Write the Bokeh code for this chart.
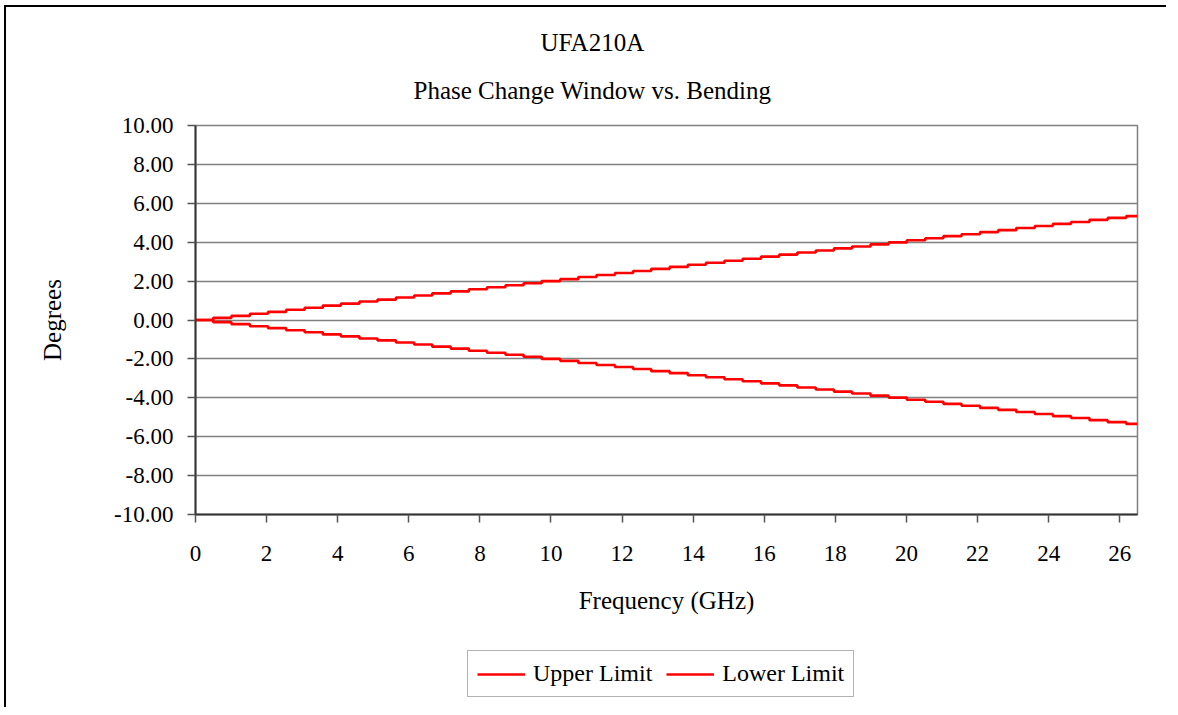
from bokeh.plotting import figure
from bokeh.models import Range1d, SingleIntervalTicker, NumeralTickFormatter, Legend, Title
from bokeh.layouts import column
from bokeh.embed import file_html
from bokeh.resources import INLINE

# ---- data ----
title_lines = ["UFA210A", "Phase Change Window vs. Bending"]
x_label = "Frequency (GHz)"
y_label = "Degrees"
series_names = ["Upper Limit", "Lower Limit"]

freq_ghz = [0.00, 0.50, 1.01, 1.53, 2.04, 2.55, 3.07, 3.58, 4.09, 4.61, 5.12,
            5.64, 6.15, 6.66, 7.18, 7.69, 8.20, 8.72, 9.23, 9.74, 10.26,
            10.77, 11.28, 11.80, 12.31, 12.82, 13.34, 13.85, 14.36, 14.88, 15.39,
            15.91, 16.42, 16.93, 17.45, 17.96, 18.47, 18.99, 19.50, 20.01, 20.53,
            21.04, 21.55, 22.07, 22.58, 23.09, 23.61, 24.12, 24.63, 25.15, 25.66,
            26.18, 26.50]
upper_deg = [0.00, 0.11, 0.21, 0.32, 0.42, 0.53, 0.63, 0.74, 0.84, 0.95, 1.05,
             1.16, 1.26, 1.37, 1.47, 1.58, 1.68, 1.79, 1.89, 2.00, 2.10,
             2.21, 2.31, 2.42, 2.52, 2.63, 2.73, 2.84, 2.94, 3.05, 3.15,
             3.26, 3.36, 3.47, 3.57, 3.68, 3.78, 3.89, 3.99, 4.10, 4.20,
             4.31, 4.41, 4.52, 4.62, 4.73, 4.83, 4.94, 5.04, 5.15, 5.25,
             5.34, 5.34]
lower_deg = [0.00, -0.11, -0.21, -0.32, -0.42, -0.53, -0.63, -0.74, -0.84, -0.95, -1.05,
             -1.16, -1.26, -1.37, -1.47, -1.58, -1.68, -1.79, -1.89, -2.00, -2.10,
             -2.21, -2.31, -2.42, -2.52, -2.63, -2.73, -2.84, -2.94, -3.05, -3.15,
             -3.26, -3.36, -3.47, -3.57, -3.68, -3.78, -3.89, -3.99, -4.10, -4.20,
             -4.31, -4.41, -4.52, -4.62, -4.73, -4.83, -4.94, -5.04, -5.15, -5.25,
             -5.34, -5.34]

x_min, x_max, x_tick = 0, 26.5, 2
y_min, y_max, y_tick = -10, 10, 2

FONT = "Liberation Serif"
RED = "#FF0000"

p = figure(width=1160, height=630, output_backend="svg", toolbar_location=None,
           x_range=Range1d(x_min, x_max), y_range=Range1d(y_min, y_max),
           min_border_left=189, min_border_right=29, min_border_top=118,
           min_border_bottom=123, title=None)

p.background_fill_color = "white"
p.border_fill_color = "white"
p.outline_line_color = "#808080"
p.outline_line_width = 1.5

# grid
p.xgrid.grid_line_color = None
p.ygrid.grid_line_color = "#808080"
p.ygrid.grid_line_width = 1.5
p.ygrid.ticker = SingleIntervalTicker(interval=y_tick)

# axes
for ax in (p.xaxis[0], p.yaxis[0]):
    ax.axis_line_color = "#333333"
    ax.axis_line_width = 2
    ax.major_tick_line_color = "#555555"
    ax.major_tick_line_width = 1.5
    ax.major_tick_in = 0
    ax.major_tick_out = 8
    ax.minor_tick_line_color = None
    ax.major_label_text_font = FONT
    ax.major_label_text_font_size = "23px"
    ax.major_label_text_color = "black"
    ax.axis_label_text_font = FONT
    ax.axis_label_text_font_size = "25px"
    ax.axis_label_text_font_style = "normal"
    ax.axis_label_text_color = "black"

p.xaxis[0].ticker = SingleIntervalTicker(interval=x_tick)
p.yaxis[0].ticker = SingleIntervalTicker(interval=y_tick)
p.yaxis[0].formatter = NumeralTickFormatter(format="0.00")
p.xaxis[0].axis_label = x_label
p.yaxis[0].axis_label = y_label
p.yaxis[0].major_label_standoff = 14
p.yaxis[0].axis_label_standoff = 45
p.xaxis[0].major_label_standoff = 23
p.xaxis[0].axis_label_standoff = 23

# series
p.step(freq_ghz, upper_deg, mode="after", line_color=RED, line_width=2.6)
p.step(freq_ghz, lower_deg, mode="after", line_color=RED, line_width=2.6)

# title (two lines; the second line is nearest the plot)
p.add_layout(Title(text=title_lines[1], text_font=FONT, text_font_size="25px",
                   text_font_style="normal", text_color="black", align="left",
                   offset=218, standoff=43), "above")
p.add_layout(Title(text=title_lines[0], text_font=FONT, text_font_size="25px",
                   text_font_style="normal", text_color="black", align="left",
                   offset=345, standoff=-4), "above")

# legend strip underneath the chart (its frame is aligned with the chart's frame);
# the series are repeated here only so the legend has renderers; the y range keeps
# them out of view.
q = figure(width=1160, height=70, output_backend="svg", toolbar_location=None,
           x_range=Range1d(x_min, x_max), y_range=Range1d(100, 101),
           x_axis_location=None, y_axis_location=None,
           min_border_left=0, min_border_right=0, min_border_top=0, min_border_bottom=0)
q.grid.grid_line_color = None
q.outline_line_color = None
q.background_fill_color = "white"
q.border_fill_color = "white"
k_up = q.step(freq_ghz, upper_deg, mode="after", line_color=RED, line_width=2.6)
k_lo = q.step(freq_ghz, lower_deg, mode="after", line_color=RED, line_width=2.6)

legend = Legend(items=[(series_names[0], [k_up]), (series_names[1], [k_lo])],
                orientation="horizontal", location=(272, 10))
legend.label_text_font = FONT
legend.label_text_font_size = "24px"
legend.label_text_color = "black"
legend.glyph_width = 48
legend.glyph_height = 22
legend.label_standoff = 8
legend.spacing = 14
legend.padding = 9
legend.margin = 0
legend.border_line_color = "#666666"
legend.border_line_width = 1.5
legend.background_fill_color = "white"
q.add_layout(legend, "center")

layout = column(p, q, spacing=0)
layout.styles = {"border-left": "2px solid #000000", "border-top": "2px solid #000000",
                 "margin-left": "4px", "margin-top": "5px"}

open("out.html", "w").write(file_html(layout, INLINE))
